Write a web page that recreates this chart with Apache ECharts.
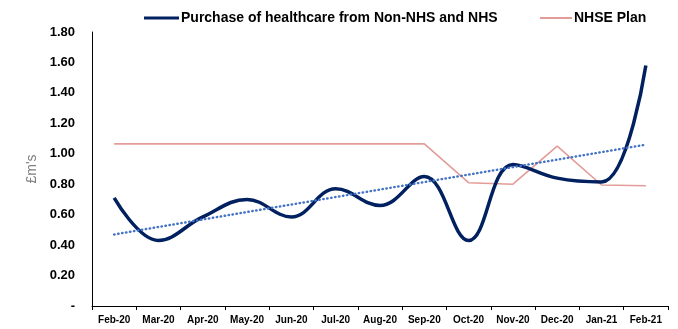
<!DOCTYPE html>
<html><head><meta charset="utf-8">
<script src="https://cdn.jsdelivr.net/npm/echarts@6/dist/echarts.min.js"></script>
<style>html,body{margin:0;padding:0;background:#fff}#c{width:678px;height:329px}</style>
</head><body><div id="c"></div>
<script>
const categories = ['Feb-20','Mar-20','Apr-20','May-20','Jun-20','Jul-20','Aug-20','Sep-20','Oct-20','Nov-20','Dec-20','Jan-21','Feb-21'];
const purchase = [0.71,0.43,0.585,0.70,0.585,0.77,0.66,0.85,0.43,0.93,0.84,0.815,1.58];
const plan = [1.065,1.065,1.065,1.065,1.065,1.065,1.065,1.065,0.81,0.80,1.05,0.795,0.79];
const trend = [0.47,null,null,null,null,null,null,null,null,null,null,null,1.06];
const yTicks = {min:0, max:1.8, interval:0.2};
const font = '"Liberation Sans",Arial,sans-serif';
const chart = echarts.init(document.getElementById('c'));
const legendText = {fontFamily:font, fontWeight:'bold', fontSize:14, color:'#000', padding:[0,0,0,-3]};
chart.setOption({
  animation:false,
  textStyle:{fontFamily:font},
  legend:[
    {top:6, left:139, itemWidth:35, itemHeight:3, icon:'rect',
     data:['Purchase of healthcare from Non-NHS and NHS'], textStyle:legendText},
    {top:6, left:535, itemWidth:32, itemHeight:2, icon:'rect',
     data:['NHSE Plan'], textStyle:legendText}
  ],
  grid:{left:92, right:10, top:32, bottom:23},
  xAxis:{
    type:'category', data:categories, boundaryGap:true,
    axisLine:{lineStyle:{color:'#000', width:1}},
    axisTick:{show:true, interval:0, length:4, lineStyle:{color:'#000'}},
    axisLabel:{interval:0, fontFamily:font, fontWeight:'bold', fontSize:10, color:'#000', margin:9}
  },
  yAxis:{
    type:'value', min:yTicks.min, max:yTicks.max, interval:yTicks.interval,
    name:"£m's", nameLocation:'middle', nameGap:30, nameRotate:90,
    nameTextStyle:{fontFamily:font, fontSize:14, color:'#7f7f7f'},
    axisLine:{show:true, lineStyle:{color:'#000', width:1}},
    axisTick:{show:false},
    splitLine:{show:false},
    axisLabel:{fontFamily:font, fontWeight:'bold', fontSize:13, color:'#000', margin:17,
      formatter:v=> v===0 ? '-' : v.toFixed(2)}
  },
  series:[
    {name:'Purchase of healthcare from Non-NHS and NHS', type:'line', data:purchase, smooth:0.4,
     symbol:'none', lineStyle:{color:'#002060', width:3.5}, itemStyle:{color:'#002060'}, z:3},
    {name:'NHSE Plan', type:'line', data:plan, symbol:'none',
     lineStyle:{color:'#E39C98', width:1.6}, itemStyle:{color:'#E39C98'}, z:2},
    {name:'Trend', type:'line', data:trend, connectNulls:true, symbol:'none',
     lineStyle:{color:'#4472C4', width:2.4, type:[0.5,3.5], cap:'round'}, itemStyle:{color:'#4472C4'}, z:4}
  ]
});
</script></body></html>
